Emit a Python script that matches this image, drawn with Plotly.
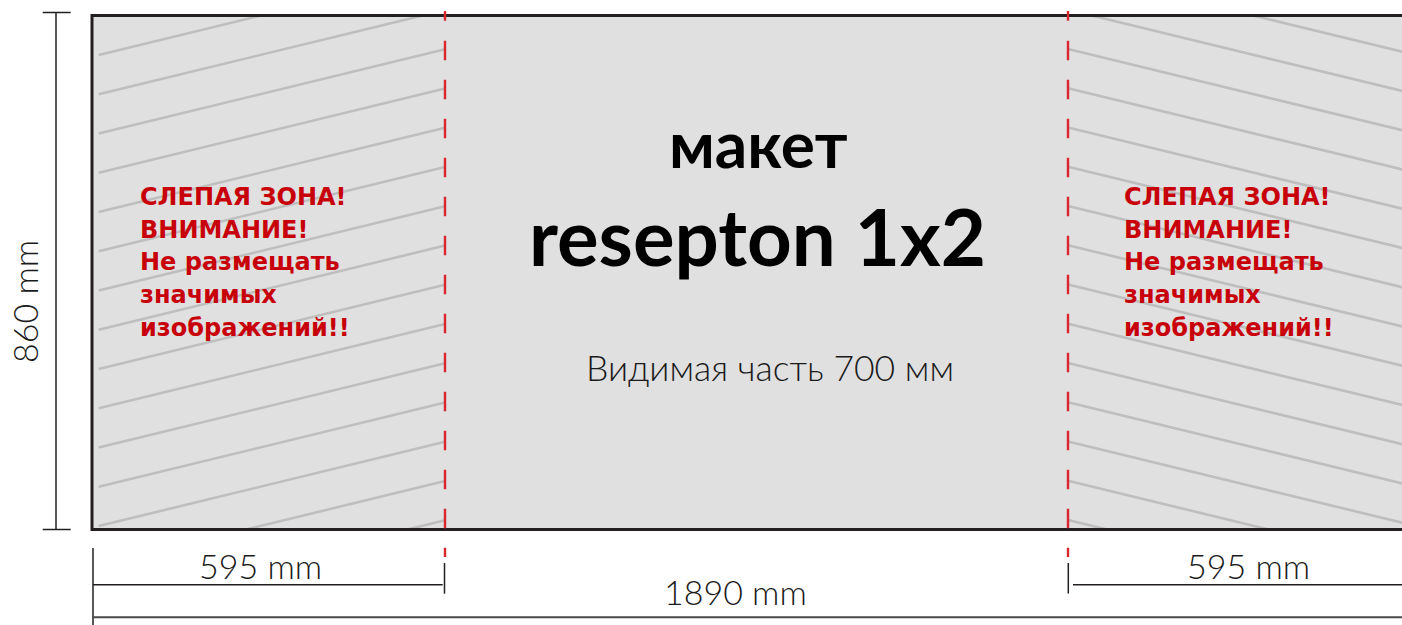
import plotly.graph_objects as go

# ---- content / values ----
TOTAL_WIDTH_MM = 1890
BLIND_ZONE_MM = [595, 595]
VISIBLE_MM = 700
HEIGHT_MM = 860
TITLE_LINES = ["макет", "resepton 1x2"]
WARNING_LINES = ["СЛЕПАЯ ЗОНА!", "ВНИМАНИЕ!", "Не размещать", "значимых", "изображений!!"]

# ---- drawing geometry (screen px, drawing not to scale) ----
W, H = 1402, 625
FRAME_L, FRAME_R, FRAME_T, FRAME_B = 92, 1421, 15.5, 529.5
CUT_X = [445, 1068]
HATCH_STEP = 39.25
HATCH_SLOPE = 0.243
HATCH_INSET = 6.7

FONT_LIGHT = "Lato, 'Open Sans', sans-serif"
FONT_WARN = "'DejaVu Sans', Lato, sans-serif"
DARK = "#231f20"
RED_TEXT = "#c8000a"
RED_LINE = "#d9262f"
HATCH = "#bebebe"
FILL = "#e0e0e0"

shapes = []


def line(x0, y0, x1, y1, color=DARK, width=1.5, dash="solid"):
    shapes.append(dict(type="line", xref="x", yref="y", x0=x0, y0=y0, x1=x1, y1=y1,
                       line=dict(color=color, width=width, dash=dash), layer="above"))


# panel fill
shapes.append(dict(type="rect", xref="x", yref="y", x0=FRAME_L, x1=FRAME_R, y0=FRAME_T, y1=FRAME_B,
                   fillcolor=FILL, line=dict(width=0), layer="above"))


def hatch(xa, xb, x_ref, y_ref, sign):
    """Family of parallel lines clipped to [xa,xb] x [FRAME_T,FRAME_B]."""
    for k in range(-3, 18):
        c = y_ref + k * HATCH_STEP
        s = sign * HATCH_SLOPE
        xt = x_ref + (FRAME_T - c) / s
        xbm = x_ref + (FRAME_B - c) / s
        lo, hi = min(xt, xbm), max(xt, xbm)
        x0, x1 = max(xa, lo), min(xb, hi)
        if x1 - x0 > 0.5:
            line(x0, c + s * (x0 - x_ref), x1, c + s * (x1 - x_ref), color=HATCH, width=2.6)


hatch(FRAME_L + HATCH_INSET, CUT_X[0], FRAME_L + HATCH_INSET, 55, -1)
hatch(CUT_X[1], FRAME_R - HATCH_INSET, CUT_X[1], 49, +1)

# frame border
shapes.append(dict(type="rect", xref="x", yref="y", x0=FRAME_L, x1=FRAME_R, y0=FRAME_T, y1=FRAME_B,
                   fillcolor="rgba(0,0,0,0)", line=dict(color=DARK, width=3), layer="above"))

# red cut lines
for cx in CUT_X:
    line(cx, 11, cx, 20.7, color=RED_LINE, width=2.4)
    line(cx, 40.7, cx, 557, color=RED_LINE, width=2.4, dash="19.5px,19.5px")

# vertical dimension
VX = 56
line(VX, 12.5, VX, FRAME_B)
line(42.7, 12.5, 70.7, 12.5)
line(42.7, FRAME_B, 70.7, FRAME_B)

# bottom dimensions
line(93, 548, 93, 640)
line(93, 584.7, CUT_X[0] - 2.3, 584.7)
line(CUT_X[0] - 0.5, 563, CUT_X[0] - 0.5, 593.7)
line(CUT_X[1] + 0.3, 563, CUT_X[1] + 0.3, 593.5)
line(CUT_X[1] + 5, 584.7, W + 20, 584.7)
line(93, 617.3, W + 20, 617.3, color="#4a4a4a", width=2)

ann = []


def text(x, y, s, size, color="#000000", weight=400, xanchor="center", angle=0, family=FONT_LIGHT):
    ann.append(dict(x=x, y=y, xref="x", yref="y", text=s, showarrow=False, xanchor=xanchor,
                    yanchor="middle", textangle=angle,
                    font=dict(family=family, size=size, color=color, weight=weight)))


text(758, 143, TITLE_LINES[0], 64, weight=700)
text(757.5, 236, TITLE_LINES[1], 78, weight=700)
text(770, 367, f"Видимая часть {VISIBLE_MM} мм", 35.5, color="#1a1a1a", weight=300)
text(260, 565, f"{BLIND_ZONE_MM[0]} mm", 34, color="#1a1a1a", weight=300)
text(1248, 565, f"{BLIND_ZONE_MM[1]} mm", 34, color="#1a1a1a", weight=300)
text(735, 591, f"{TOTAL_WIDTH_MM} mm", 34, color="#1a1a1a", weight=300)
text(24, 302, f"{HEIGHT_MM} mm", 34, color="#1a1a1a", weight=300, angle=-90)

WARN_X = [138, 1122]
for wx in WARN_X:
    for i, s in enumerate(WARNING_LINES):
        text(wx, 197 + i * 32.7, s, 24, color=RED_TEXT, weight=700, xanchor="left", family=FONT_WARN)

fig = go.Figure()
fig.update_layout(
    width=W, height=H,
    margin=dict(l=0, r=0, t=0, b=0),
    paper_bgcolor="white", plot_bgcolor="white",
    xaxis=dict(range=[0, W], visible=False, fixedrange=True),
    yaxis=dict(range=[H, 0], visible=False, fixedrange=True),
    shapes=shapes, annotations=ann, showlegend=False,
)
fig.write_html(
    "out.html",
    config={"displayModeBar": False, "staticPlot": True},
    post_script="document.body.style.margin='0';document.body.style.overflow='hidden';",
)
